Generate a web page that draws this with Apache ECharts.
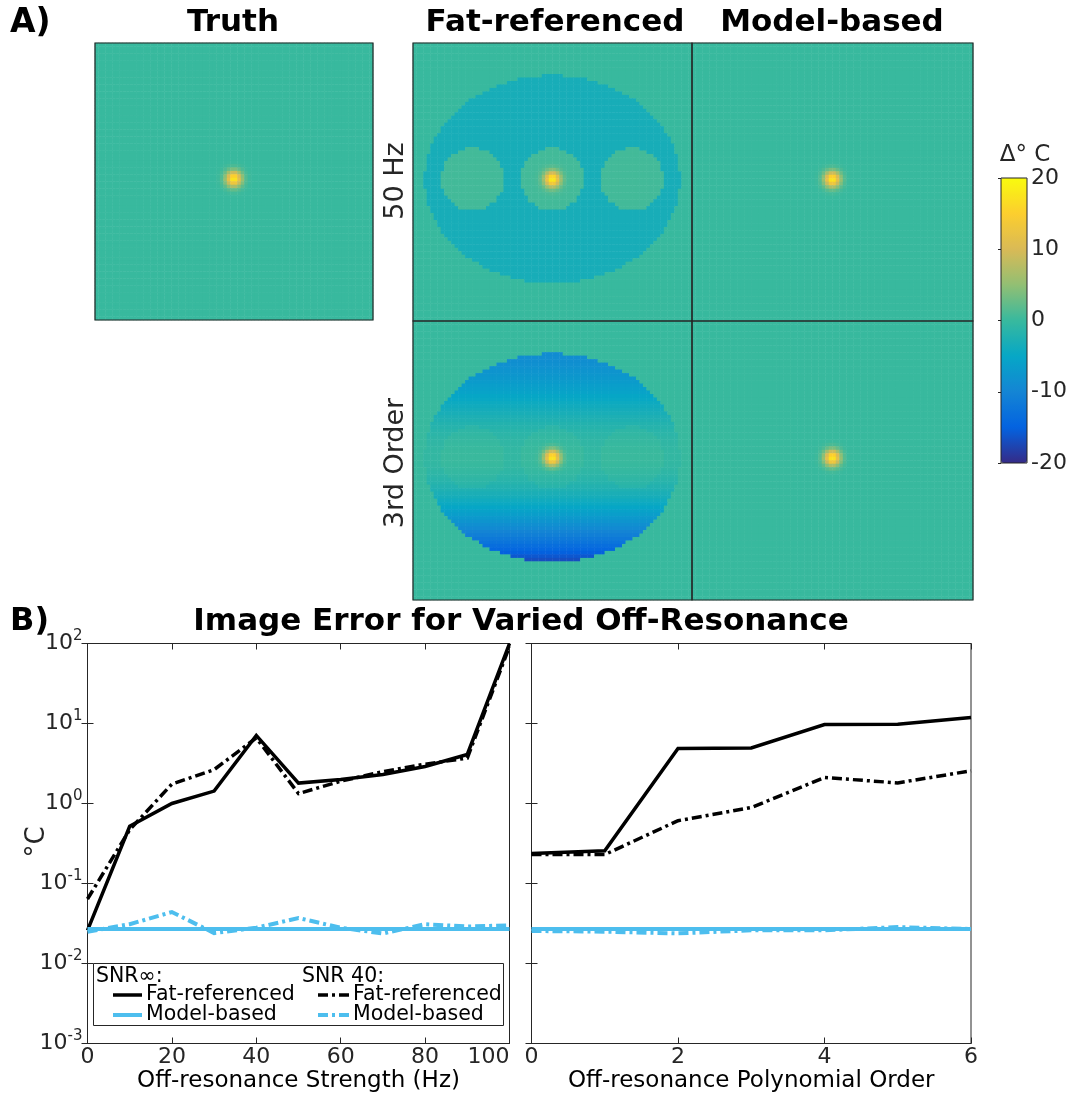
<!DOCTYPE html>
<html>
<head>
<meta charset="utf-8">
<script src="https://cdn.jsdelivr.net/npm/echarts@6/dist/echarts.min.js"></script>
<style>
  html, body { margin: 0; padding: 0; background: #fff; }
  #chart { width: 1070px; height: 1093px; }
</style>
</head>
<body>
<div id="chart"></div>
<script>
// ---------- B) error vs off-resonance strength ----------
const strengthHz = [0, 10, 20, 30, 40, 50, 60, 70, 80, 90, 100];
const fatRefInfByStrength = [0.026, 0.52, 1.0, 1.43, 7.1, 1.8, 2.0, 2.3, 2.9, 4.1, 100];
const fatRef40ByStrength  = [0.064, 0.47, 1.75, 2.65, 6.6, 1.33, 1.9, 2.5, 3.1, 3.7, 92];
const modelInfByStrength  = [0.027, 0.027, 0.027, 0.027, 0.027, 0.027, 0.027, 0.027, 0.027, 0.027, 0.027];
const model40ByStrength   = [0.025, 0.031, 0.044, 0.024, 0.028, 0.037, 0.028, 0.0237, 0.031, 0.029, 0.030];

// ---------- B) error vs off-resonance polynomial order ----------
const polyOrder = [0, 1, 2, 3, 4, 5, 6];
const fatRefInfByOrder = [0.237, 0.257, 4.87, 4.95, 9.7, 9.8, 11.9];
const fatRef40ByOrder  = [0.23, 0.23, 0.61, 0.89, 2.11, 1.81, 2.56];
const modelInfByOrder  = [0.027, 0.027, 0.027, 0.027, 0.027, 0.027, 0.027];
const model40ByOrder   = [0.0255, 0.025, 0.0238, 0.026, 0.026, 0.0285, 0.027];

// ---------- A) temperature-change maps (phantom in image cells) ----------
const imageSize = 80;
const phantomCenter = [39.5, 38.8];
const bodySemiAxes = [36.6, 29.9];
const fatDiscOffsets = [-22.9, 0, 22.9];
const fatDiscRadius = 9.0;
const hotSpotPeak = 18;        // °C
const hotSpotSigma = 1.6;      // cells
const shift50HzBody = -3.2;    // °C error inside the body, 50 Hz
const shift50HzDisc = 0.6;     // °C error inside the fat discs, 50 Hz
const orderProfileCoef = [-0.5, -0.73, -18.4, -3.52, 5.69]; // body error vs normalised height
const orderDiscOffset = 0.6;
const colorRange = [-20, 20];
const colorTicks = [-20, -10, 0, 10, 20];

const parula = ['#352a87', '#0363e1', '#1485d4', '#06a7c6', '#38b99e',
                '#92bf73', '#d9ba56', '#fcce2e', '#f9fb0e'];

function phantomCells(kind) {
  const cells = [];
  for (let j = 0; j < imageSize; j++) {
    for (let i = 0; i < imageSize; i++) {
      const x = i - phantomCenter[0];
      const y = j - phantomCenter[1];
      const inBody = (x / bodySemiAxes[0]) ** 2 + (y / bodySemiAxes[1]) ** 2 <= 1;
      const inDisc = fatDiscOffsets.some(o => (x - o) ** 2 + y ** 2 <= fatDiscRadius ** 2);
      let v = hotSpotPeak * Math.exp(-(x * x + y * y) / (2 * hotSpotSigma * hotSpotSigma));
      if (kind === 'fat50' && inBody) v += inDisc ? shift50HzDisc : shift50HzBody;
      if (kind === 'fat3' && inBody) {
        const t = y / bodySemiAxes[1];
        v += orderProfileCoef.reduce((s, c, k) => s + c * Math.pow(t, k), 0);
        if (inDisc) v += orderDiscOffset;
      }
      v = Math.max(colorRange[0], Math.min(colorRange[1], v));
      cells.push([i, j, Math.round(v * 100) / 100]);
    }
  }
  return cells;
}

const FONT = '"DejaVu Sans", "Liberation Sans", sans-serif';
const AX = '#262626';
const BLUE = '#4dbeee';
const DASH = [10, 4, 3, 4];

const panels = [
  { box: { left: 95,  top: 43,  width: 278, height: 277 }, kind: 'truth', name: 'Truth' },
  { box: { left: 413, top: 43,  width: 279, height: 278 }, kind: 'fat50', name: 'Fat-referenced 50 Hz' },
  { box: { left: 692, top: 43,  width: 281, height: 278 }, kind: 'truth', name: 'Model-based 50 Hz' },
  { box: { left: 413, top: 321, width: 279, height: 279 }, kind: 'fat3',  name: 'Fat-referenced 3rd Order' },
  { box: { left: 692, top: 321, width: 281, height: 279 }, kind: 'truth', name: 'Model-based 3rd Order' }
];

const cellIndex = Array.from({ length: imageSize }, (_, k) => k);

const grids = [], xAxes = [], yAxes = [], series = [];

panels.forEach((p, k) => {
  grids.push(Object.assign({ show: true, borderColor: AX, borderWidth: 1.2,
    backgroundColor: 'transparent', containLabel: false, outerBoundsMode: 'none', z: 3 }, p.box));
  xAxes.push({ type: 'category', gridIndex: k, data: cellIndex, show: false });
  yAxes.push({ type: 'category', gridIndex: k, data: cellIndex, show: false, inverse: true });
  series.push({ type: 'heatmap', name: p.name, xAxisIndex: k, yAxisIndex: k,
    data: phantomCells(p.kind), progressive: 0, silent: true,
    itemStyle: { borderWidth: 0 }, emphasis: { disabled: true } });
});

// colour bar frame + tick axis (grid 5)
grids.push({ show: true, left: 1001, top: 178, width: 26, height: 285, borderColor: AX,
  borderWidth: 1, backgroundColor: 'transparent', containLabel: false, outerBoundsMode: 'none', z: 10 });
xAxes.push({ type: 'value', gridIndex: 5, show: false, min: 0, max: 1 });
yAxes.push({ type: 'value', gridIndex: 5, position: 'right', min: colorRange[0], max: colorRange[1],
  interval: 10, z: 10,
  axisLine: { show: false },
  axisTick: { show: true, inside: true, length: 3, lineStyle: { color: AX, width: 1 } },
  axisLabel: { show: true, margin: 4, color: AX, fontFamily: FONT, fontSize: 22,
    formatter: v => colorTicks.includes(v) ? String(v) : '' },
  splitLine: { show: false } });

// line plots
const plotTop = 643.5, plotH = 400;
grids.push({ show: true, left: 87.5, top: plotTop, width: 422, height: plotH, borderColor: AX,
  borderWidth: 1, backgroundColor: 'transparent', containLabel: false, outerBoundsMode: 'none' });
grids.push({ show: true, left: 531.5, top: plotTop, width: 439.5, height: plotH, borderColor: AX,
  borderWidth: 1, backgroundColor: 'transparent', containLabel: false, outerBoundsMode: 'none' });

const tickStyle = { show: true, inside: true, length: 6, lineStyle: { color: AX, width: 1 } };
const lineAx = { show: true, lineStyle: { color: AX, width: 1 } };
const labelBase = { color: AX, fontFamily: FONT, fontSize: 22 };

function xAx(grid, pos, min, max, interval, showLabel, name, extra) {
  return Object.assign({
    type: 'value', gridIndex: grid, position: pos, min, max, interval,
    axisLine: lineAx, axisTick: tickStyle, splitLine: { show: false },
    axisLabel: Object.assign({ show: showLabel, margin: 3 }, labelBase),
    name: name || '', nameLocation: 'middle', nameGap: 25,
    nameTextStyle: { color: '#000', fontFamily: FONT, fontSize: 23 }
  }, extra || {});
}
function yAx(grid, pos, showLabel) {
  return {
    type: 'log', logBase: 10, gridIndex: grid, position: pos, min: 0.001, max: 100,
    axisLine: lineAx, axisTick: tickStyle, splitLine: { show: false },
    minorTick: { show: false }, minorSplitLine: { show: false },
    axisLabel: {
      show: showLabel, margin: 5,
      formatter: v => '{b|10}{s|' + Math.round(Math.log10(v)) + '}',
      rich: {
        b: { fontFamily: FONT, fontSize: 22, color: AX, lineHeight: 30 },
        s: { fontFamily: FONT, fontSize: 15, color: AX, verticalAlign: 'top', lineHeight: 16 }
      }
    }
  };
}

xAxes.push(xAx(6, 'bottom', 0, 100, 20, true, 'Off-resonance Strength (Hz)', { axisLabel: Object.assign({ show: true, margin: 3, alignMaxLabel: 'right' }, labelBase) }));
xAxes.push(xAx(6, 'top', 0, 100, 20, false));
xAxes.push(xAx(7, 'bottom', 0, 6, 2, true, 'Off-resonance Polynomial Order'));
xAxes.push(xAx(7, 'top', 0, 6, 2, false));
yAxes.push(yAx(6, 'left', true));
yAxes.push(yAx(6, 'right', false));
yAxes.push(yAx(7, 'left', false));
yAxes.push(yAx(7, 'right', false));

function pair(xs, ys) { return xs.map((x, i) => [x, ys[i]]); }
function lineSeries(name, xi, yi, xs, ys, color, width, dashed) {
  return { type: 'line', name, xAxisIndex: xi, yAxisIndex: yi, data: pair(xs, ys),
    showSymbol: false, symbol: 'none', silent: true, clip: true,
    lineStyle: { color, width, type: dashed ? DASH : 'solid', cap: 'butt', join: 'miter' } };
}
// left plot uses xAxis 6 / yAxis 6, right plot xAxis 8 / yAxis 8
series.push(lineSeries('Fat-referenced SNR∞', 6, 6, strengthHz, fatRefInfByStrength, '#000', 3.5, false));
series.push(lineSeries('Model-based SNR∞', 6, 6, strengthHz, modelInfByStrength, BLUE, 4, false));
series.push(lineSeries('Fat-referenced SNR 40', 6, 6, strengthHz, fatRef40ByStrength, '#000', 3.5, true));
series.push(lineSeries('Model-based SNR 40', 6, 6, strengthHz, model40ByStrength, BLUE, 4, true));
series.push(lineSeries('Fat-referenced SNR∞', 8, 8, polyOrder, fatRefInfByOrder, '#000', 3.5, false));
series.push(lineSeries('Model-based SNR∞', 8, 8, polyOrder, modelInfByOrder, BLUE, 4, false));
series.push(lineSeries('Fat-referenced SNR 40', 8, 8, polyOrder, fatRef40ByOrder, '#000', 3.5, true));
series.push(lineSeries('Model-based SNR 40', 8, 8, polyOrder, model40ByOrder, BLUE, 4, true));

function txt(text, x, y, font, opts) {
  opts = opts || {};
  return { type: 'text', x, y, rotation: opts.rotation || 0, z: 100,
    style: { text, font, fill: opts.fill || '#000', align: opts.align || 'center', verticalAlign: 'middle' } };
}
const bold = s => 'bold ' + s + 'px ' + FONT;
const reg = s => s + 'px ' + FONT;

const graphics = [
  txt('A)', 10, 23, bold(33), { align: 'left' }),
  txt('Truth', 233, 23, bold(31)),
  txt('Fat-referenced', 555, 23, bold(31)),
  txt('Model-based', 832, 23, bold(31)),
  txt('50 Hz', 396, 181, reg(27), { rotation: Math.PI / 2, fill: AX }),
  txt('3rd Order', 396, 463, reg(27), { rotation: Math.PI / 2, fill: AX }),
  txt('Δ° C', 1025, 155, reg(23), { fill: AX }),
  txt('B)', 10, 622, bold(32), { align: 'left' }),
  txt('Image Error for Varied Off-Resonance', 521, 622, bold(31)),
  txt('°C', 37, 842, reg(26), { rotation: Math.PI / 2, fill: AX }),
  // legend
  { type: 'rect', z: 100, shape: { x: 93.5, y: 963.5, width: 410, height: 62 },
    style: { fill: '#fff', stroke: AX, lineWidth: 1 } },
  txt('SNR∞:', 96, 977, reg(20.5), { align: 'left' }),
  txt('SNR 40:', 302, 977, reg(20.5), { align: 'left' }),
  { type: 'line', z: 101, shape: { x1: 113, y1: 995, x2: 142, y2: 995 }, style: { stroke: '#000', lineWidth: 3.5 } },
  { type: 'line', z: 101, shape: { x1: 113, y1: 1015, x2: 142, y2: 1015 }, style: { stroke: BLUE, lineWidth: 4 } },
  { type: 'line', z: 101, shape: { x1: 318, y1: 995, x2: 351, y2: 995 }, style: { stroke: '#000', lineWidth: 3.5, lineDash: DASH } },
  { type: 'line', z: 101, shape: { x1: 318, y1: 1015, x2: 351, y2: 1015 }, style: { stroke: BLUE, lineWidth: 4, lineDash: DASH } },
  txt('Fat-referenced', 146, 995, reg(20.5), { align: 'left' }),
  txt('Model-based', 146, 1015, reg(20.5), { align: 'left' }),
  txt('Fat-referenced', 353, 995, reg(20.5), { align: 'left' }),
  txt('Model-based', 353, 1015, reg(20.5), { align: 'left' })
];

const chart = echarts.init(document.getElementById('chart'), null, { renderer: 'canvas' });
chart.setOption({
  animation: false,
  backgroundColor: '#fff',
  grid: grids,
  xAxis: xAxes,
  yAxis: yAxes,
  visualMap: {
    type: 'continuous', seriesIndex: [0, 1, 2, 3, 4], min: colorRange[0], max: colorRange[1],
    calculable: false, hoverLink: false, realtime: false,
    left: 1001, top: 178, itemWidth: 26, itemHeight: 285, padding: 0,
    inRange: { color: parula }, text: null, showLabel: false
  },
  series,
  graphic: graphics
});
</script>
</body>
</html>
